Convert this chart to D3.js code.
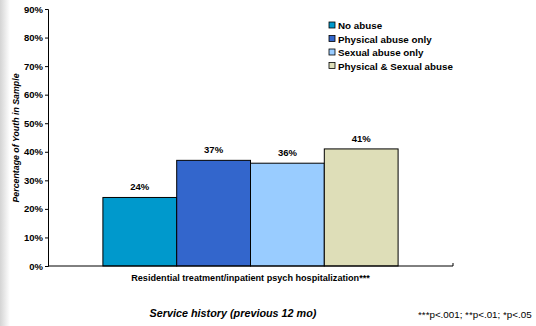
<!DOCTYPE html>
<html>
<head>
<meta charset="utf-8">
<script src="https://cdn.jsdelivr.net/npm/d3@7"></script>
<style>
body { margin: 0; background: #fff; }
svg { display: block; font-family: "Liberation Sans", Arial, sans-serif; }
</style>
</head>
<body>
<script>
var categories = ["Residential treatment/inpatient psych hospitalization***"];
var seriesNames = ["No abuse", "Physical abuse only", "Sexual abuse only", "Physical & Sexual abuse"];
var seriesValues = [[24], [37], [36], [41]];
var seriesColors = ["#0099cc", "#3366cc", "#99ccff", "#dedeb8"];
var yTicks = [0, 10, 20, 30, 40, 50, 60, 70, 80, 90];

var svg = d3.select("body").append("svg").attr("width", 536).attr("height", 326);

// left gray edge shadow
var grad = svg.append("defs").append("linearGradient").attr("id", "edge");
grad.append("stop").attr("offset", "0%").attr("stop-color", "#d4d4d4");
grad.append("stop").attr("offset", "100%").attr("stop-color", "#ffffff");
svg.append("rect").attr("x", 0).attr("y", 0).attr("width", 10).attr("height", 326).attr("fill", "url(#edge)");

var y = d3.scaleLinear().domain([0, 90]).range([266, 9]);
var x0 = d3.scaleBand().domain(categories).range([48, 453]).paddingInner(0).paddingOuter(0.186);
var x1 = d3.scaleBand().domain(seriesNames).range([0, x0.bandwidth()]);

// bars
categories.forEach(function(c, ci){
  svg.selectAll("rect.bar" + ci)
    .data(seriesNames)
    .enter().append("rect")
      .attr("class", "bar" + ci)
      .attr("x", function(d){ return x0(c) + x1(d); })
      .attr("y", function(d, i){ return y(seriesValues[i][ci]); })
      .attr("width", x1.bandwidth())
      .attr("height", function(d, i){ return y(0) - y(seriesValues[i][ci]); })
      .attr("fill", function(d, i){ return seriesColors[i]; })
      .attr("stroke", "#000").attr("stroke-width", 1);

  svg.selectAll("text.lab" + ci)
    .data(seriesNames)
    .enter().append("text")
      .attr("class", "lab" + ci)
      .attr("x", function(d){ return x0(c) + x1(d) + x1.bandwidth() / 2; })
      .attr("y", function(d, i){ return y(seriesValues[i][ci]) - 7; })
      .attr("text-anchor", "middle")
      .attr("font-size", 9.5).attr("font-weight", "bold")
      .text(function(d, i){ return seriesValues[i][ci] + "%"; });
});

// y axis
var yAxis = svg.append("g").attr("transform", "translate(48,0)")
  .call(d3.axisLeft(y).tickValues(yTicks).tickSize(3).tickPadding(2).tickFormat(function(d){ return d + "%"; }));
yAxis.select(".domain").attr("stroke", "#000");
yAxis.selectAll("text").attr("font-size", 9.5).attr("font-weight", "bold").attr("fill", "#000")
  .attr("font-family", "Liberation Sans, Arial, sans-serif");

// x axis
var xAxis = svg.append("g").attr("transform", "translate(0,266)")
  .call(d3.axisBottom(x0).tickSize(0).tickPadding(9));
xAxis.select(".domain").attr("stroke", "#000").attr("d", "M48,0H453V-3");
xAxis.selectAll("text").attr("font-size", 9.1).attr("font-weight", "bold").attr("fill", "#000")
  .attr("font-family", "Liberation Sans, Arial, sans-serif");

// axis titles
svg.append("text")
  .attr("transform", "translate(19,138) rotate(-90)")
  .attr("text-anchor", "middle")
  .attr("font-size", 8.8).attr("font-weight", "bold").attr("font-style", "italic")
  .text("Percentage of Youth in Sample");

svg.append("text")
  .attr("x", 233).attr("y", 317)
  .attr("text-anchor", "middle")
  .attr("font-size", 10.8).attr("font-weight", "bold").attr("font-style", "italic")
  .text("Service history (previous 12 mo)");

svg.append("text")
  .attr("x", 418).attr("y", 318)
  .attr("font-size", 9.8)
  .text("***p<.001; **p<.01; *p<.05");

// legend
var legend = svg.selectAll("g.legend")
  .data(seriesNames)
  .enter().append("g")
    .attr("class", "legend")
    .attr("transform", function(d, i){ return "translate(329," + (22 + i * 13.5) + ")"; });
legend.append("rect")
  .attr("width", 6).attr("height", 6)
  .attr("fill", function(d, i){ return seriesColors[i]; })
  .attr("stroke", "#000").attr("stroke-width", 0.8);
legend.append("text")
  .attr("x", 9).attr("y", 7)
  .attr("font-size", 9.8).attr("font-weight", "bold")
  .text(function(d){ return d; });
</script>
</body>
</html>
